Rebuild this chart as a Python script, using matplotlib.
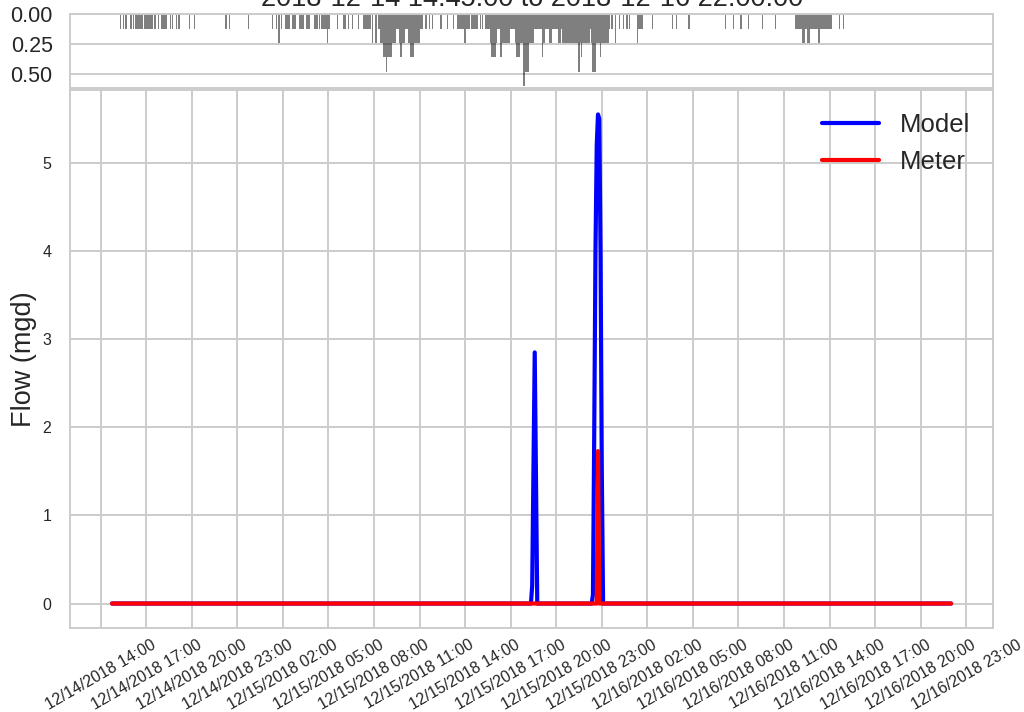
import numpy as np
import pandas as pd
import matplotlib
matplotlib.use('Agg')
import matplotlib.pyplot as plt
import matplotlib.dates as mdates
import seaborn as sns

# rain gauge: number of 0.01 in tips per 5 min slot (each tip = 0.12 in/hr),
# one string per hour starting at 12/14 14:00
rain_start = '2018-12-14 14:00'
tip_rate = 0.12
rain_hours = [
    '000000000000', '000010101000', '101011111101', '111111010010',
    '111110010100', '101000000010', '001000000000', '000000000000',
    '000100100000', '000000000100', '000000000000', '000010010201',
    '001111001110', '011110011100', '011101011112', '110000010000',
    '110010010000', '100011111102', '022012223343', '333222112332',
    '211223332222', '211001001010', '000001000010', '000100111111',
    '211101111110', '101011112333', '321133222222', '111123332255',
    '444222211111', '132211122111', '112212222222', '222222423222',
    '222124442223', '222222101002', '001001001010', '000021111000',
    '000010000000', '000000001001', '000000000100', '000000000000',
    '000000000000', '001000001000', '001000001000', '000000010000',
    '000001000000', '000000000111', '111221122111', '111221111111',
    '110000001001',
]

# flow series (mgd, 5 min), zero outside the listed events
flow_start = '2018-12-14 14:45'
flow_end = '2018-12-16 22:00'
model_event_times = ['2018-12-15 18:20', '2018-12-15 18:25', '2018-12-15 18:30', '2018-12-15 18:35',
                     '2018-12-15 18:40', '2018-12-15 18:45',
                     '2018-12-15 22:20', '2018-12-15 22:25', '2018-12-15 22:30', '2018-12-15 22:35',
                     '2018-12-15 22:40', '2018-12-15 22:45', '2018-12-15 22:50', '2018-12-15 22:55',
                     '2018-12-15 23:00', '2018-12-15 23:05']
model_event_vals = [0.0, 0.2, 1.5, 2.85, 1.4, 0.0,
                    0.0, 0.1, 1.9, 4.0, 5.2, 5.55, 5.5, 4.0, 1.5, 0.0]
meter_event_times = ['2018-12-15 22:40', '2018-12-15 22:45', '2018-12-15 22:50']
meter_event_vals = [0.0, 1.73, 0.0]

title = '2018-12-14 14:45:00 to 2018-12-16 22:00:00'

# ---- build series ----
rain_tips = [int(c) for row in rain_hours for c in row]
rain = pd.Series(rain_tips, index=pd.date_range(rain_start, periods=len(rain_tips), freq='5min')) * tip_rate
rain = rain[rain > 0]

model = pd.Series(0.0, index=pd.date_range(flow_start, flow_end, freq='5min'))
model.loc[pd.to_datetime(model_event_times)] = model_event_vals
meter = pd.Series(0.0, index=pd.date_range(flow_start, flow_end, freq='5min'))
meter.loc[pd.to_datetime(meter_event_times)] = meter_event_vals

# ---- plot ----
sns.set_style('whitegrid', {'grid.color': '.8', 'axes.edgecolor': '.8'})
plt.rcParams['font.family'] = ['Liberation Sans', 'DejaVu Sans']
plt.rcParams['grid.linewidth'] = 1.4
plt.rcParams['axes.linewidth'] = 1.4

fig = plt.figure(figsize=(10.24, 7.12), dpi=100)
ax = fig.add_axes([0.0684, 0.118, 0.9014, 0.7556])
ax_r = fig.add_axes([0.0684, 0.876, 0.9014, 0.104], sharex=ax)

ax.plot(model.index, model.values, color='blue', lw=3, label='Model')
ax.plot(meter.index, meter.values, color='red', lw=3, label='Meter')

ax.xaxis.set_major_locator(mdates.HourLocator(byhour=range(2, 24, 3)))
ax.xaxis.set_major_formatter(mdates.DateFormatter('%m/%d/%Y %H:%M'))
plt.setp(ax.get_xticklabels(), rotation=30, fontsize=11.5)
ax.tick_params(axis='x', pad=3, labelsize=11.5)
ax.tick_params(axis='y', pad=10, labelsize=11.5)
ax.set_ylabel('Flow (mgd)', fontsize=19.5)
ax.legend(loc='upper right', fontsize=18.5, frameon=False, handlelength=2.2)

ax_r.bar(rain.index, rain.values, width=5 / 1440, color='black', alpha=0.5, linewidth=0)
ax_r.set_ylim(0.62, 0)
ax_r.set_yticks([0, 0.25, 0.5])
ax_r.set_yticklabels(['0.00', '0.25', '0.50'])
ax_r.tick_params(axis='y', pad=9, labelsize=15.5)
ax_r.tick_params(axis='x', labelbottom=False)
ax_r.grid(axis='x', visible=False)

# title sits mostly above the canvas, as in the original export
fig.text(0.52, 1 - 6 / 712, title, ha='center', va='baseline', fontsize=19.5, color='.15')

fig.savefig('out.png', dpi=100)
